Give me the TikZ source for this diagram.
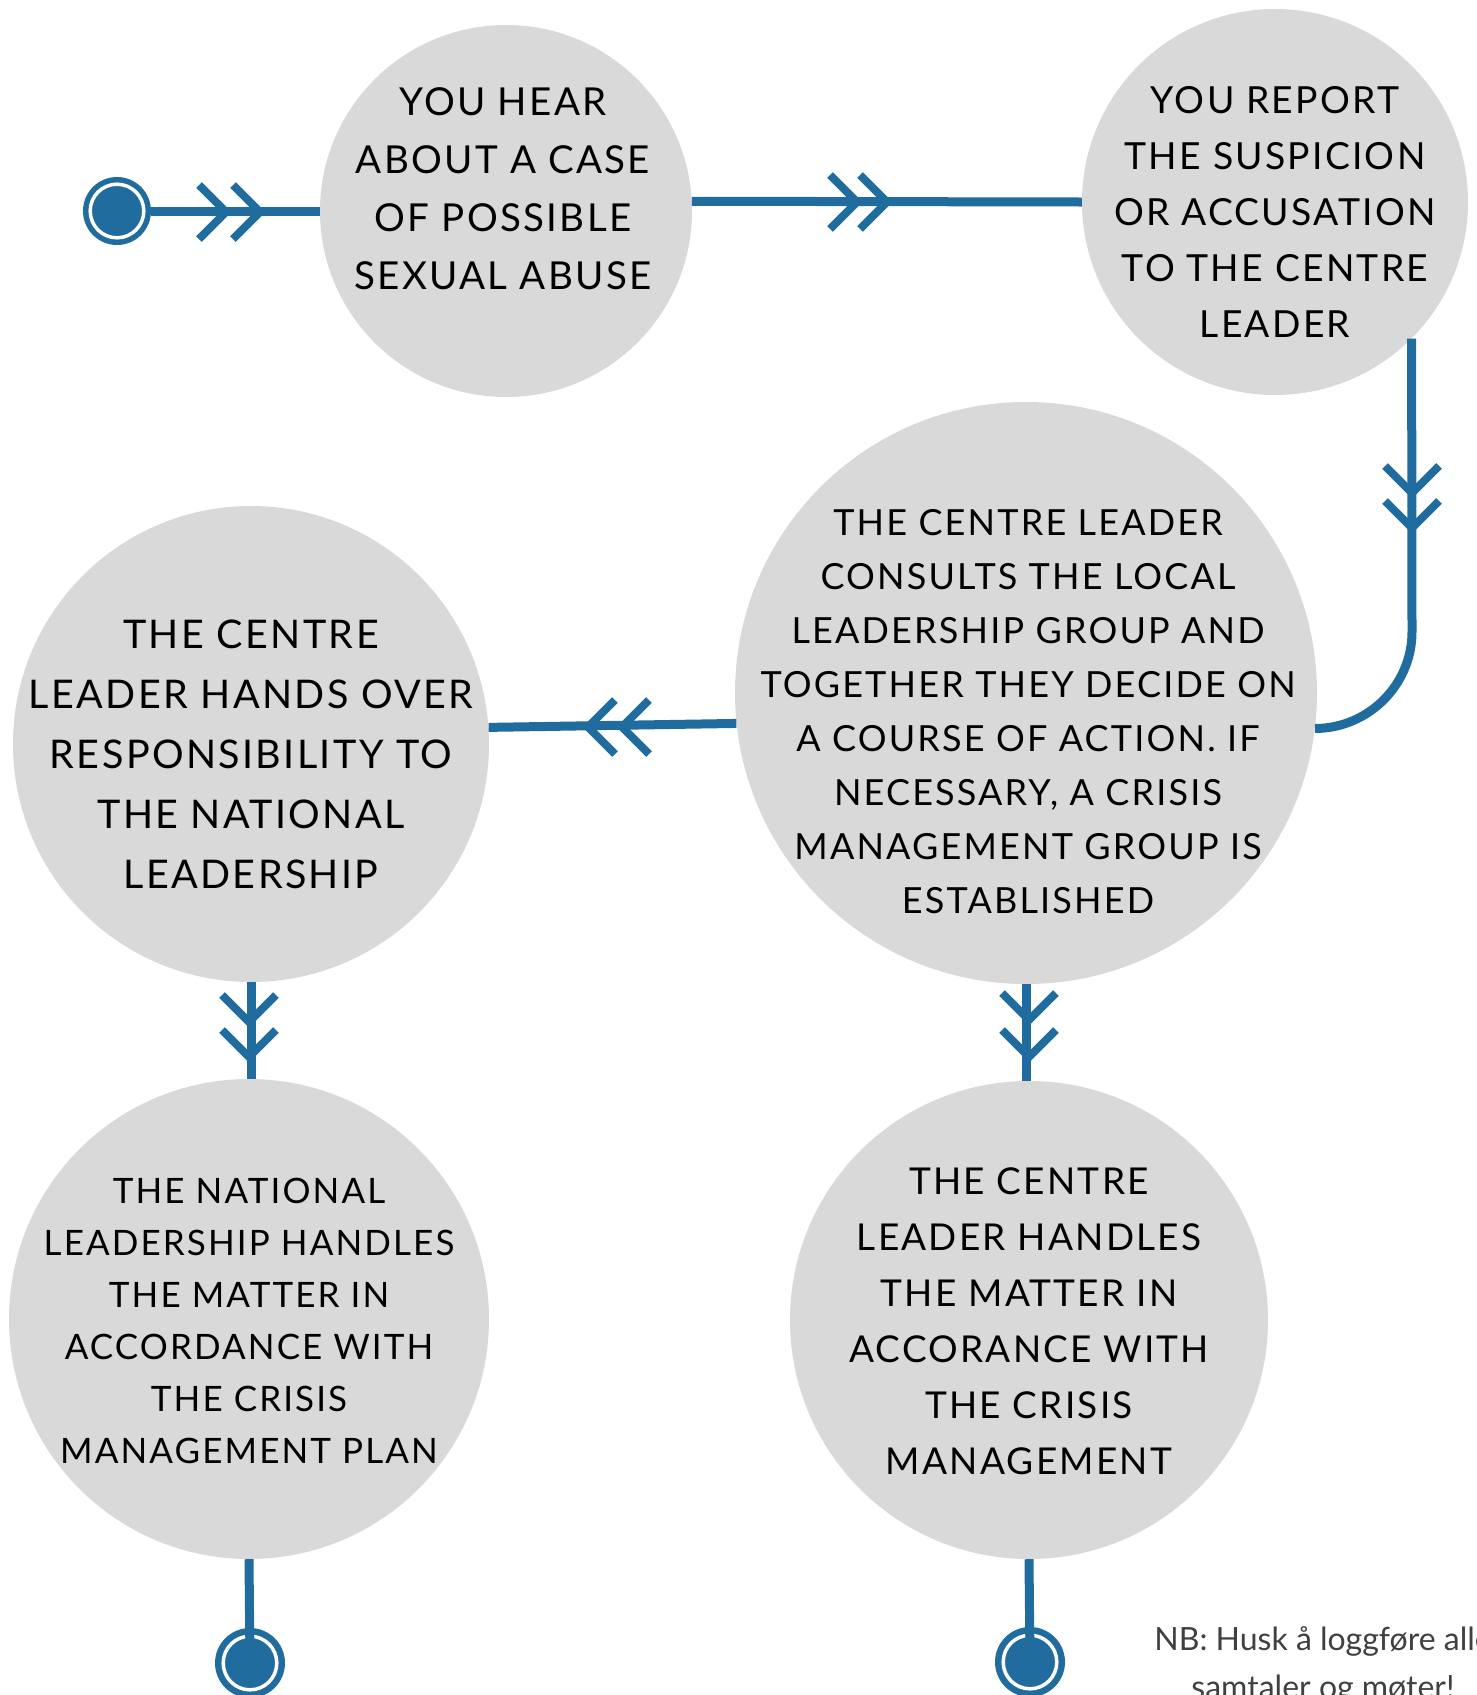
\documentclass[tikz,border=0pt]{standalone}
\usepackage{fontspec}
\setmainfont{Lato}
\newfontfamily\capsfont[LetterSpace=6]{Lato}
\usetikzlibrary{calc}
\definecolor{flowblue}{RGB}{32,108,158}
\definecolor{bubblegray}{RGB}{217,217,217}
\definecolor{notegray}{RGB}{64,64,64}

\begin{document}
\begin{tikzpicture}[x=1pt,y=-1pt,
  bubble/.style={circle, fill=bubblegray, inner sep=0pt, minimum size=#1},
  btext/.style 2 args={align=center, inner sep=0pt, text=black,
    font=\capsfont\fontsize{#1}{#2}\selectfont},
  flow/.style={draw=flowblue, line width=9pt},
  endpt/.style={circle, fill=flowblue, inner sep=0pt, minimum size=70pt,
    path picture={\draw[white, line width=3.5pt]
      (path picture bounding box.center) circle[radius=26.8pt];}},
  chev/.pic={\draw[flowblue, line width=8pt, line join=miter]
    (-27pt,27pt) -- (0pt,0pt) -- (-27pt,-27pt);}
]
\useasboundingbox (0,0) rectangle (1477,1695);
\clip (0,0) rectangle (1477,1695);

% steps
\node[bubble=372pt] (c1) at (506,211) {};
\node[bubble=386pt] (c2) at (1275,202) {};
\node[bubble=582pt] (c3) at (1026,693) {};
\node[bubble=476pt] (c4) at (251,744) {};
\node[bubble=480pt] (c5) at (249,1319) {};
\node[bubble=478pt] (c6) at (1029,1320) {};

% start and end points
\node[endpt, minimum size=68pt] (s0) at (117,211) {};
\node[endpt] (e1) at (250,1663) {};
\node[endpt] (e2) at (1030,1662) {};

% connectors
\coordinate (bend) at (1412,632);
\draw[flow] (s0) -- (c1);
\draw[flow] (c1.3) -- (c2.west);
\draw[flow] (c2.-45) -- (bend) .. controls +(0,53) and +(53,0) .. (c3.-7);
\draw[flow] (c3.186.7) -- (c4.4.1);
\draw[flow] (c4.south) -- (c4.south |- c5.north);
\draw[flow] (c3.south) -- (c3.south |- c6.north);
\draw[flow] (c5.south) -- (e1.center);
\draw[flow] (c6.south) -- (e2.center);

% direction marks
\pic at (226,212) {chev};
\pic at (260,212) {chev};
\pic at (857,202) {chev};
\pic at (887,202) {chev};
\pic[rotate=-90] at (1412,493) {chev};
\pic[rotate=-90] at (1412,528) {chev};
\pic[rotate=180] at (588,727) {chev};
\pic[rotate=180] at (622,727) {chev};
\pic[rotate=-90] at (249,1022) {chev};
\pic[rotate=-90] at (249,1057) {chev};
\pic[rotate=-90] at (1029,1020) {chev};
\pic[rotate=-90] at (1029,1057) {chev};

% texts
\node[btext={38.5}{58}] (t1) at (503,189)
  {YOU HEAR\\ABOUT A CASE\\OF POSSIBLE\\SEXUAL ABUSE};
\node[btext={37.3}{56}] (t2) at (1275,212)
  {YOU REPORT\\THE SUSPICION\\OR ACCUSATION\\TO THE CENTRE\\LEADER};
\node[btext={36}{54}] (t3) at (1028,712)
  {THE CENTRE LEADER\\CONSULTS THE LOCAL\\LEADERSHIP GROUP AND\\TOGETHER THEY DECIDE ON\\A COURSE OF ACTION. IF\\NECESSARY, A CRISIS\\MANAGEMENT GROUP IS\\ESTABLISHED};
\node[btext={39.5}{60}] (t4) at (251,754)
  {THE CENTRE\\LEADER HANDS OVER\\RESPONSIBILITY TO\\THE NATIONAL\\LEADERSHIP};
\node[btext={35}{52}] (t5) at (249,1321)
  {THE NATIONAL\\LEADERSHIP HANDLES\\THE MATTER IN\\ACCORDANCE WITH\\THE CRISIS\\MANAGEMENT PLAN};
\node[btext={37}{56}] (t6) at (1029,1321)
  {THE CENTRE\\LEADER HANDLES\\THE MATTER IN\\ACCORANCE WITH\\THE CRISIS\\MANAGEMENT};

% note
\node[font=\fontsize{32}{48}\selectfont, text=notegray, align=center,
  inner sep=0pt, anchor=base] (nb) at (1323,1698)
  {NB: Husk å loggføre alle\\samtaler og møter!};
\end{tikzpicture}
\end{document}
